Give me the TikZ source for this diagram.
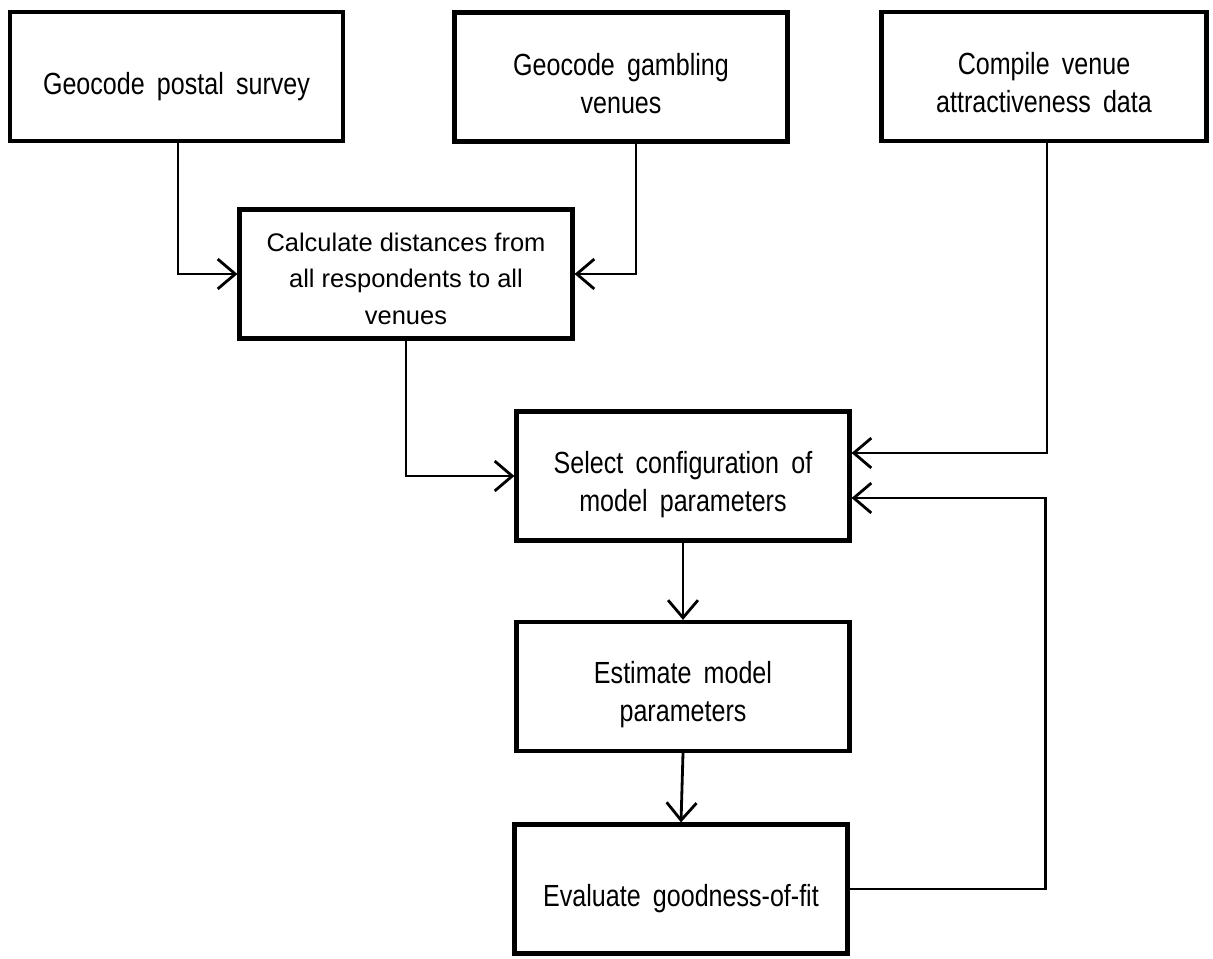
\documentclass[tikz,border=0pt]{standalone}
\usepackage{fontspec}
\setmainfont{Liberation Sans}
\newfontfamily\narrowfont{Liberation Sans}[FakeStretch=0.82]
\usetikzlibrary{arrows.meta, calc, positioning}
\newcommand{\boxfont}{\narrowfont\fontsize{17.4}{21.6}\selectfont\spaceskip=.4em plus .1em\relax}
\newcommand{\calcfont}{\fontsize{14.5}{21}\selectfont}
\newcommand{\lift}[1]{\rule{0pt}{#1}}

\begin{document}
\begin{tikzpicture}[x=0.02cm,y=-0.02cm,
    font=\boxfont,
    stepbox/.style={draw,line width=2.4pt,minimum width=6.66cm,minimum height=2.58cm,align=center,inner sep=0pt},
    link/.style={line width=1.6pt,-{Straight Barb[length=10pt,width=17pt]}}]
    \useasboundingbox (0,0) rectangle (1213,958);
    % input boxes
    \node[stepbox] (postal) at (176.5,76.5) {\lift{24pt}Geocode postal survey};
    \node[stepbox] (venues) at (621,77) {\lift{20pt}Geocode gambling\\venues};
    \node[stepbox,minimum width=6.5cm] (attract) at (1044,76.5) {\lift{19pt}Compile venue\\attractiveness data};
    \node[stepbox,font=\calcfont] (dist) at (406,274) {\lift{16pt}Calculate distances from\\all respondents to all\\venues};
    % model loop
    \node[stepbox] (config) at (683,476) {\lift{22pt}Select configuration of\\model parameters};
    \node[stepbox] (estim) at (683,686.5) {\lift{22pt}Estimate model\\parameters};
    \node[stepbox] (evalfit) at (681,889) {\lift{24pt}Evaluate goodness-of-fit};

    \draw[link] ([xshift=0.03cm]postal.south) |- (dist.west);
    \draw[link] ([xshift=0.3cm]venues.south) |- (dist.east);
    \draw[link] (dist.south) |- (config.west);
    \draw[link] ([xshift=0.06cm]attract.south) |- ($(config.east)+(0,-23)$);
    \draw[link] (config.south) -- (estim.north);
    \draw[link] (estim.south) -- (evalfit.north);
    \draw[link] (evalfit.east) -| ++(196,0) |- ($(config.east)+(0,22)$);
\end{tikzpicture}
\end{document}
